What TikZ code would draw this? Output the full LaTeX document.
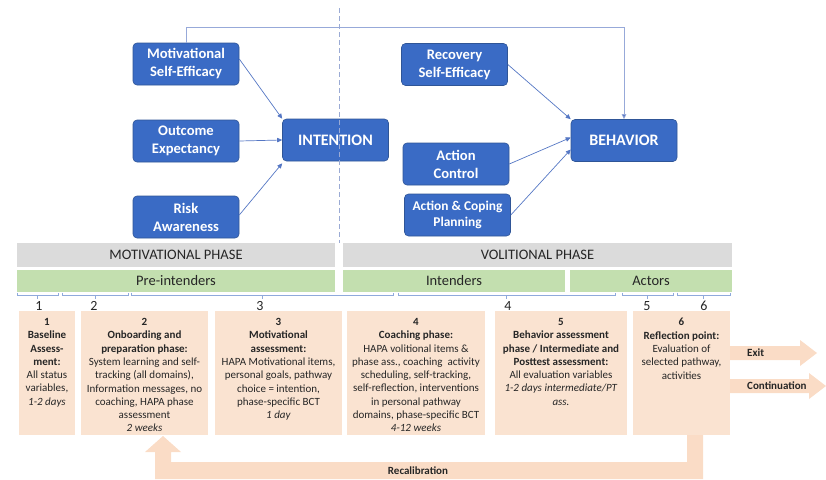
\documentclass[tikz,border=0pt]{standalone}
\usepackage{fontspec}
\setmainfont{Carlito}
\usetikzlibrary{arrows.meta}
\definecolor{hblue}{HTML}{3A6BC5}
\definecolor{hblueline}{HTML}{2F5597}
\definecolor{connblue}{HTML}{5577C4}
\definecolor{toplinecol}{HTML}{97A9D9}
\definecolor{dashcol}{HTML}{9AAAD4}
\definecolor{bandgrey}{HTML}{DBDBDB}
\definecolor{bandgreen}{HTML}{C3DFAF}
\definecolor{peach}{HTML}{FAE3D1}
\definecolor{peacharrow}{HTML}{FADCC6}
\definecolor{bracecol}{HTML}{8FAADC}
\definecolor{txt}{HTML}{262626}
\begin{document}
\begin{tikzpicture}[x=1pt,y=-1pt,
  hapa/.style={draw=hblueline, line width=0.6pt, fill=hblue, rounded corners=4pt,
    text=white, font=\bfseries\fontsize{14.6}{18}\selectfont, align=center,
    minimum width=106pt, minimum height=42pt, inner sep=0pt},
  hapabig/.style={hapa, font=\bfseries\fontsize{16}{18}\selectfont},
  connarrow/.style={draw=connblue, line width=0.7pt, -{Triangle[length=5pt,width=4.5pt]}},
  band/.style={inner sep=0pt, font=\fontsize{14.5}{16}\selectfont, text=txt},
  greyband/.style={band, fill=bandgrey, minimum height=24pt},
  greenband/.style={band, fill=bandgreen, minimum height=22pt},
  numlabel/.style={inner sep=0pt, font=\fontsize{14}{15}\selectfont, text=txt},
  peachbox/.style={fill=peach, inner sep=0pt, minimum height=124pt},
  boxtext/.style={align=center, inner sep=0pt, anchor=north, yshift=-7.3pt,
    font=\fontsize{11}{13.3}\selectfont, text=txt},
  arrowlabel/.style={inner sep=0pt, font=\bfseries\fontsize{11}{13}\selectfont, text=txt}
]
\useasboundingbox (0,0) rectangle (826,479);

% ---------------- HAPA model ----------------
\node[hapa] (mse) at (186,64) {Motivational\\Self-Efficacy};
\node[hapa] (oe) at (186,141) {Outcome\\Expectancy};
\node[hapa] (ra) at (186,217) {Risk\\Awareness};
\node[hapabig] (int) at (335.5,140) {INTENTION};
\node[hapa] (rse) at (454.5,64.5) {Recovery\\Self-Efficacy};
\node[hapa] (ac) at (456,164) {Action\\Control};
\node[hapa, font=\bfseries\fontsize{13.4}{16}\selectfont] (acp) at (457.5,215) {Action \& Coping\\Planning};
\node[hapabig] (beh) at (624,140.5) {BEHAVIOR};

\coordinate (dtop) at (339,8);
\coordinate (dbot) at (339,243);
\draw[dashcol, line width=0.7pt, dash pattern=on 5pt off 3pt] (dtop) -- (dbot);

\draw[connarrow] ([yshift=5pt]mse.east) -- (int.north west);
\draw[connarrow] (oe.east) -- (int.west);
\draw[connarrow] ([yshift=2pt]ra.east) -- ([yshift=-2pt]int.south west);
\draw[connarrow] (rse.east) -- (beh.north west);
\draw[connarrow] (ac.east) -- ([yshift=3pt]beh.west);
\draw[connarrow] (acp.east) -- ([yshift=-9pt]beh.west);
\draw[draw=toplinecol, line width=0.7pt, -{Triangle[length=5pt,width=4.5pt,fill=connblue]}]
  (mse.north) -- ++(0,-15) -| (beh.north);

% ---------------- phase bands ----------------
\node[greyband, minimum width=318pt] (mp) at (176,255) {MOTIVATIONAL PHASE};
\node[greyband, minimum width=389pt] (vp) at (537.5,255) {VOLITIONAL PHASE};
\node[greenband, minimum width=318pt] (pre) at (176,281) {Pre-intenders};
\node[greenband, minimum width=222pt] (intd) at (454,281) {Intenders};
\node[greenband, minimum width=162pt] (act) at (651,281) {Actors};

\foreach \a/\b in {17/58, 62/128, 131/393, 398/615, 622/673, 677/730} {
  \draw[bracecol, line width=0.6pt] (\a,292.5) -- (\a,295.5) -- (\b,295.5) -- (\b,292.5);
  \draw[bracecol, line width=0.6pt] ({(\a+\b)/2},295.5) -- ++(0,3);
}
\node[numlabel] (n1) at (39,306) {1};
\node[numlabel] (n2) at (94,306) {2};
\node[numlabel] (n3) at (260,306) {3};
\node[numlabel] (n4) at (508,306) {4};
\node[numlabel] (n5) at (647,306) {5};
\node[numlabel] (n6) at (704,306) {6};

% ---------------- orange arrows ----------------
\fill[peacharrow] (687,430) -- (703,430) -- (703,479) -- (155,479) -- (155,452)
  -- (145,452) -- (163,436) -- (181,452) -- (171,452) -- (171,462) -- (687,462) -- cycle;
\fill[peacharrow] (725,346) -- (800,346) -- (800,340) -- (817,353) -- (800,366)
  -- (800,360) -- (725,360) -- cycle;
\fill[peacharrow] (725,379) -- (809,379) -- (809,373) -- (826,386) -- (809,399)
  -- (809,393) -- (725,393) -- cycle;
\node[arrowlabel, anchor=west] (exitl) at (747,353) {Exit};
\node[arrowlabel, anchor=west] (contl) at (747,386) {Continuation};
\node[arrowlabel] (recal) at (418,471) {Recalibration};

% ---------------- step boxes ----------------
\node[peachbox, minimum width=56pt] (b1) at (47,373) {};
\node[peachbox, minimum width=127pt] (b2) at (144.5,373) {};
\node[peachbox, minimum width=127pt] (b3) at (278.5,373) {};
\node[peachbox, minimum width=138pt] (b4) at (416,373) {};
\node[peachbox, minimum width=132pt] (b5) at (561,373) {};
\node[peachbox, minimum width=97pt] (b6) at (681.5,373) {};

\node[boxtext] (t1) at (b1.north) {\textbf{1}\\\textbf{Baseline}\\\textbf{Assess-}\\\textbf{ment:}\\All status\\variables,\\\textit{1-2 days}};
\node[boxtext] (t2) at (b2.north) {\textbf{2}\\\textbf{Onboarding and}\\\textbf{preparation phase:}\\System learning and self-\\tracking (all domains),\\Information messages, no\\coaching, HAPA phase\\assessment\\\textit{2 weeks}};
\node[boxtext] (t3) at (b3.north) {\textbf{3}\\\textbf{Motivational}\\\textbf{assessment:}\\HAPA Motivational items,\\personal goals, pathway\\choice = intention,\\phase-specific BCT\\\textit{1 day}};
\node[boxtext] (t4) at (b4.north) {\textbf{4}\\\textbf{Coaching phase:}\\HAPA volitional items \&\\phase ass., coaching\ \ activity\\scheduling, self-tracking,\\self-reflection, interventions\\in personal pathway\\domains, phase-specific BCT\\\textit{4-12 weeks}};
\node[boxtext] (t5) at (b5.north) {\textbf{5}\\\textbf{Behavior assessment}\\\textbf{phase / Intermediate and}\\\textbf{Posttest assessment:}\\All evaluation variables\\\textit{1-2 days intermediate/PT}\\\textit{ass.}};
\node[boxtext] (t6) at (b6.north) {\textbf{6}\\\textbf{Reflection point:}\\Evaluation of\\selected pathway,\\activities};
\end{tikzpicture}
\end{document}
